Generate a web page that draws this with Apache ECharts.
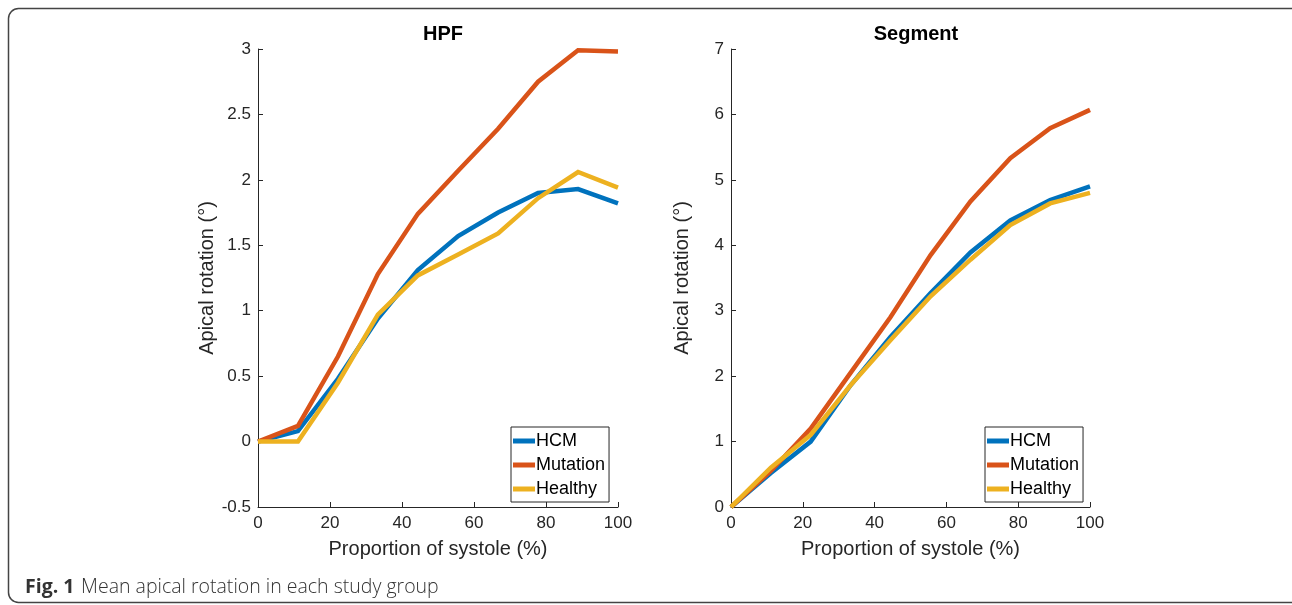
<!DOCTYPE html>
<html><head><meta charset="utf-8">
<script src="https://cdn.jsdelivr.net/npm/echarts@6/dist/echarts.min.js"></script>
<style>html,body{margin:0;padding:0;background:#fff}#c{width:1292px;height:605px}</style>
</head><body><div id="c"></div>
<script>
const xVals = [0, 11.1, 22.2, 33.3, 44.4, 55.6, 66.7, 77.8, 88.9, 100];
const seriesNames = ['HCM', 'Mutation', 'Healthy'];
const hpfHCM = [0, 0.08, 0.48, 0.94, 1.31, 1.57, 1.75, 1.90, 1.93, 1.82];
const hpfMutation = [0, 0.12, 0.65, 1.28, 1.74, 2.07, 2.39, 2.75, 2.99, 2.98];
const hpfHealthy = [0, 0, 0.45, 0.97, 1.27, 1.43, 1.59, 1.86, 2.06, 1.94];
const segHCM = [0, 0.52, 1.00, 1.86, 2.60, 3.27, 3.89, 4.38, 4.69, 4.90];
const segMutation = [0, 0.55, 1.20, 2.05, 2.90, 3.85, 4.67, 5.33, 5.79, 6.07];
const segHealthy = [0, 0.60, 1.10, 1.86, 2.55, 3.22, 3.78, 4.31, 4.64, 4.80];
const panelTitles = ['HPF', 'Segment'];
const xName = 'Proportion of systole (%)';
const yName = 'Apical rotation (°)';
const captionBold = 'Fig. 1';
const captionText = 'Mean apical rotation in each study group';

const colors = ['#0072BD', '#D95319', '#EDB120'];
const axisColor = '#262626';
const font = 'Liberation Sans, Arial, Helvetica, sans-serif';

function pairs(ys) { return xVals.map((x, i) => [x, ys[i]]); }

function xAxis(gi) {
  return {
    type: 'value', gridIndex: gi, min: 0, max: 100, interval: 20,
    name: xName, nameLocation: 'middle', nameGap: 32,
    nameTextStyle: { fontFamily: font, fontSize: 20, color: axisColor },
    axisLine: { show: true, onZero: false, lineStyle: { color: axisColor, width: 1 } },
    axisTick: { show: true, inside: true, length: 5, lineStyle: { color: axisColor } },
    axisLabel: { fontFamily: font, fontSize: 17, color: axisColor, margin: 8 },
    splitLine: { show: false }
  };
}
function yAxis(gi, min, max, interval) {
  return {
    type: 'value', gridIndex: gi, min: min, max: max, interval: interval,
    name: yName, nameLocation: 'middle', nameGap: 39, nameRotate: 90,
    nameTextStyle: { fontFamily: font, fontSize: 20, color: axisColor },
    axisLine: { show: true, onZero: false, lineStyle: { color: axisColor, width: 1 } },
    axisTick: { show: true, inside: true, length: 5, lineStyle: { color: axisColor } },
    axisLabel: { fontFamily: font, fontSize: 17, color: axisColor, margin: 7 },
    splitLine: { show: false }
  };
}
function line(name, data, gi, ci) {
  return {
    type: 'line', name: name, xAxisIndex: gi, yAxisIndex: gi,
    data: pairs(data), showSymbol: false, symbol: 'none',
    lineStyle: { width: 4.5, color: colors[ci], join: 'miter' },
    itemStyle: { color: colors[ci] },
    z: 3 + ci, animation: false
  };
}
function legend(left) {
  return {
    orient: 'vertical', left: left, top: 427,
    data: seriesNames.map(n => ({ name: n, icon: 'rect' })),
    itemWidth: 22, itemHeight: 5, itemGap: 6,
    padding: [5, 4, 4, 2],
    borderColor: axisColor, borderWidth: 1, backgroundColor: '#fff',
    textStyle: { fontFamily: font, fontSize: 18, color: '#000', padding: [0, 0, 0, -4] },
    selectedMode: false
  };
}

const chart = echarts.init(document.getElementById('c'), null, { renderer: 'canvas' });
chart.setOption({
  animation: false,
  backgroundColor: '#fff',
  color: colors,
  title: [
    { text: panelTitles[0], left: 438, top: 19, textAlign: 'center', textStyle: { fontFamily: font, fontSize: 20, fontWeight: 'bold', color: '#000' } },
    { text: panelTitles[1], left: 911, top: 19, textAlign: 'center', textStyle: { fontFamily: font, fontSize: 20, fontWeight: 'bold', color: '#000' } }
  ],
  grid: [
    { left: 258, top: 49, width: 360, height: 458 },
    { left: 731, top: 49, width: 359, height: 458 }
  ],
  xAxis: [xAxis(0), xAxis(1)],
  yAxis: [yAxis(0, -0.5, 3, 0.5), yAxis(1, 0, 7, 1)],
  legend: [legend(511), legend(985)],
  series: [
    line(seriesNames[0], hpfHCM, 0, 0),
    line(seriesNames[1], hpfMutation, 0, 1),
    line(seriesNames[2], hpfHealthy, 0, 2),
    line(seriesNames[0], segHCM, 1, 0),
    line(seriesNames[1], segMutation, 1, 1),
    line(seriesNames[2], segHealthy, 1, 2)
  ],
  graphic: [
    { type: 'rect', shape: { x: 8.5, y: 8.5, width: 1300, height: 594, r: 10 }, style: { fill: 'none', stroke: '#444', lineWidth: 1.5 }, silent: true, z: -10 },
    { type: 'text', left: 25, top: 577, style: {
        text: '{b|' + captionBold + '}  {n|' + captionText + '}',
        rich: {
          b: { fontFamily: 'Open Sans, sans-serif', fontWeight: 'bold', fontSize: 19.5, fill: '#333' },
          n: { fontFamily: 'Open Sans, sans-serif', fontWeight: 300, fontSize: 19.5, fill: '#333' }
        }
      } }
  ]
});
</script></body></html>
